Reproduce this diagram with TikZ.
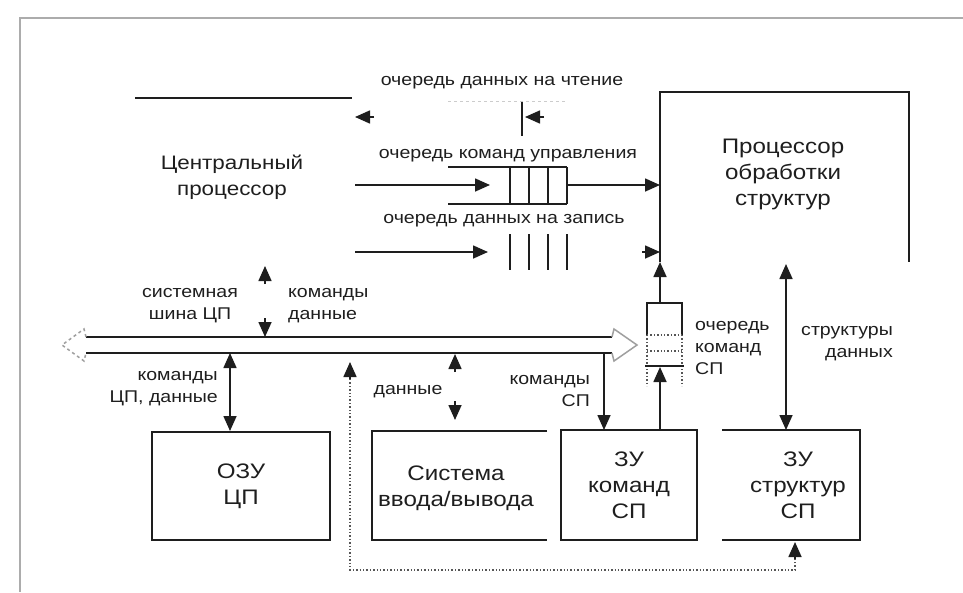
\documentclass[tikz,border=0pt]{standalone}
\usepackage{fontspec}
\setmainfont{Liberation Sans}[FakeStretch=1.15]
\usetikzlibrary{arrows.meta}
\definecolor{ink}{HTML}{1E1E1E}
\begin{document}
\begin{tikzpicture}[x=1pt,y=-1pt,
  solidline/.style={line width=1.8pt, draw=ink},
  conn/.style={line width=1.6pt, draw=ink},
  tipe/.style={-{Triangle[length=15pt,width=13pt]}},
  dtipe/.style={{Triangle[length=15pt,width=13pt]}-{Triangle[length=15pt,width=13pt]}},
  dots/.style={line width=1.4pt, draw=ink!75, dotted},
  bigtext/.style={font=\fontsize{19.5}{26}\selectfont, align=center, inner sep=0, text=ink},
  boxtext/.style={font=\fontsize{21}{26}\selectfont, align=center, inner sep=0, text=ink},
  labtext/.style={font=\fontsize{17}{22}\selectfont, inner sep=0, text=ink},
]
\useasboundingbox (0,0) rectangle (963,592);
% frame
\coordinate (frTR) at (963,18); \coordinate (frTL) at (20,18); \coordinate (frBL) at (20,592);
\draw[gray!65, line width=2pt] (frTR) -- (frTL) -- (frBL);

% central processor
\node[bigtext] (cpu) at (232,177) {Центральный\\процессор};
\coordinate (cpuL) at (135,98); \coordinate (cpuR) at (352,98);
\draw[solidline] (cpuL) -- (cpuR);

% processor of structures
\node[boxtext] (psp) at (783,174) {Процессор\\обработки\\структур};
\coordinate (psBL) at (660,262); \coordinate (psTL) at (660,92);
\coordinate (psTR) at (909,92); \coordinate (psBR) at (909,262);
\draw[solidline] (psBL) -- (psTL) -- (psTR) -- (psBR);

% read queue
\node[labtext] (lread) at (502,83) {очередь данных на чтение};
\coordinate (rqA) at (448,101); \coordinate (rqB) at (567,101);
\draw[gray!40, line width=1pt, dashed] (rqA) -- (rqB);
\coordinate (rvT) at (522,102); \coordinate (rvB) at (522,136);
\draw[conn] (rvT) -- (rvB);
\coordinate (rh1s) at (544,117); \coordinate (rh1e) at (525,117);
\draw[conn, tipe] (rh1s) -- (rh1e);
\coordinate (rh2s) at (374,117); \coordinate (rh2e) at (355,117);
\draw[conn, tipe] (rh2s) -- (rh2e);

% command queue
\node[labtext] (lcmd) at (508,156) {очередь команд управления};
\coordinate (qcTL) at (448,167); \coordinate (qcTR) at (567,167);
\coordinate (qcBL) at (448,204); \coordinate (qcBR) at (567,204);
\draw[conn] (qcTL) -- (qcTR) (qcBL) -- (qcBR);
\foreach \x in {510,529,548,567} \draw[conn] (\x,167) -- (\x,204);
\coordinate (cpuOut1) at (355,185); \coordinate (qcIn) at (490,185);
\coordinate (qcOut) at (567,185); \coordinate (psIn1) at (660,185);
\draw[conn, tipe] (cpuOut1) -- (qcIn);
\draw[conn, tipe] (qcOut) -- (psIn1);

% write queue
\node[labtext] (lwrite) at (504,221) {очередь данных на запись};
\foreach \x in {510,529,548,567} \draw[conn] (\x,234) -- (\x,270);
\coordinate (cpuOut2) at (355,252); \coordinate (wqIn) at (488,252);
\draw[conn, tipe] (cpuOut2) -- (wqIn);
\coordinate (wh1s) at (642,252); \coordinate (psIn2) at (660,252);
\draw[conn, tipe] (wh1s) -- (psIn2);

% system bus
\coordinate (busTL) at (86,337); \coordinate (busTR) at (612,337);
\coordinate (busBL) at (86,353); \coordinate (busBR) at (612,353);
\draw[line width=2pt, draw=ink] (busTL) -- (busTR) (busBL) -- (busBR);
\coordinate (rhA) at (614,329); \coordinate (rhT) at (637,345); \coordinate (rhB) at (614,361);
\draw[gray!75, line width=1.5pt] (busTR) -- (rhA) -- (rhT) -- (rhB) -- (busBR);
\coordinate (lhA) at (84,329); \coordinate (lhT) at (62,345); \coordinate (lhB) at (84,361);
\draw[gray!75, line width=1.5pt, dashed] (busTL) -- (lhA) -- (lhT) -- (lhB) -- (busBL);
\node[labtext, align=center] (lbus) at (190,306) {системная\\шина ЦП};
\node[labtext, align=left, anchor=west] (lcd) at (288,306) {команды\\данные};

% cpu <-> bus heads
\coordinate (cbU1) at (265,284); \coordinate (cbU2) at (265,266);
\draw[conn, tipe] (cbU1) -- (cbU2);
\coordinate (cbD1) at (265,318); \coordinate (cbD2) at (265,337);
\draw[conn, tipe] (cbD1) -- (cbD2);

% lower boxes
\node[boxtext, minimum width=178, minimum height=108] (ozu) at (241,486) {ОЗУ\\ЦП};
\draw[solidline] (ozu.north west) rectangle (ozu.south east);

\node[boxtext] (sys) at (456,488) {Система\\ввода/вывода};
\coordinate (sysTR) at (547,431); \coordinate (sysTL) at (372,431);
\coordinate (sysBL) at (372,540); \coordinate (sysBR) at (547,540);
\draw[solidline] (sysTR) -- (sysTL) -- (sysBL) -- (sysBR);

\node[boxtext, minimum width=136, minimum height=110] (zuk) at (629,485) {ЗУ\\команд\\СП};
\draw[solidline] (zuk.north west) rectangle (zuk.south east);

\node[boxtext] (zus) at (798,485) {ЗУ\\структур\\СП};
\coordinate (zsTL) at (722,430); \coordinate (zsTR) at (860,430);
\coordinate (zsBR) at (860,540); \coordinate (zsBL) at (722,540);
\draw[solidline] (zsTL) -- (zsTR) -- (zsBR) -- (zsBL);

% ozu <-> bus
\coordinate (ozuBus) at (230,353); \coordinate (ozuTop) at (230,431);
\draw[conn, dtipe] (ozuBus) -- (ozuTop);
\node[labtext, align=right, anchor=east] (lozu) at (218,389) {команды\\ЦП, данные};

% sys <-> bus heads
\coordinate (sbU1) at (455,372); \coordinate (sbU2) at (455,354);
\draw[conn, tipe] (sbU1) -- (sbU2);
\coordinate (sbD1) at (455,401); \coordinate (sbD2) at (455,420);
\draw[conn, tipe] (sbD1) -- (sbD2);
\node[labtext] (ldata) at (408,392) {данные};

% bus -> ЗУ команд
\coordinate (kBus) at (604,353); \coordinate (kTop) at (604,430);
\draw[conn, tipe] (kBus) -- (kTop);
\node[labtext, align=right, anchor=east] (lksp) at (590,391) {команды\\СП};

% queue SP
\coordinate (qsTL) at (647,303); \coordinate (qsTR) at (682,303);
\coordinate (qsML) at (647,335); \coordinate (qsMR) at (682,335);
\draw[conn] (qsML) -- (qsTL) -- (qsTR) -- (qsMR);
\draw[dots] (qsML) -- (qsMR) (647,351) -- (682,351);
\draw[dots] (qsML) -- (647,386) (qsMR) -- (682,386);
\coordinate (qsBL) at (645,366); \coordinate (qsBR) at (684,366);
\draw[line width=2.2pt, draw=ink] (qsBL) -- (qsBR);
\coordinate (qsTop) at (660,303); \coordinate (qsBot) at (660,367);
\draw[conn, tipe] (qsTop) -- (psBL);
\coordinate (zukTop) at (660,430);
\draw[conn, tipe] (zukTop) -- (qsBot);
\node[labtext, align=left, anchor=west] (lqsp) at (695,348) {очередь\\команд\\СП};

% structures <-> processor
\coordinate (zsTop) at (786,430); \coordinate (psBot) at (786,264);
\draw[conn, dtipe] (zsTop) -- (psBot);
\node[labtext, align=right, anchor=east] (lstr) at (893,344) {структуры\\данных};

% dotted path
\coordinate (dA) at (350,362); \coordinate (dB) at (350,570);
\coordinate (dC) at (795,570); \coordinate (dD) at (795,542);
\draw[conn, tipe] (350,379) -- (dA);
\draw[dots] (350,379) -- (dB) -- (dC) -- (795,559);
\draw[conn, tipe] (795,559) -- (dD);
\end{tikzpicture}
\end{document}
